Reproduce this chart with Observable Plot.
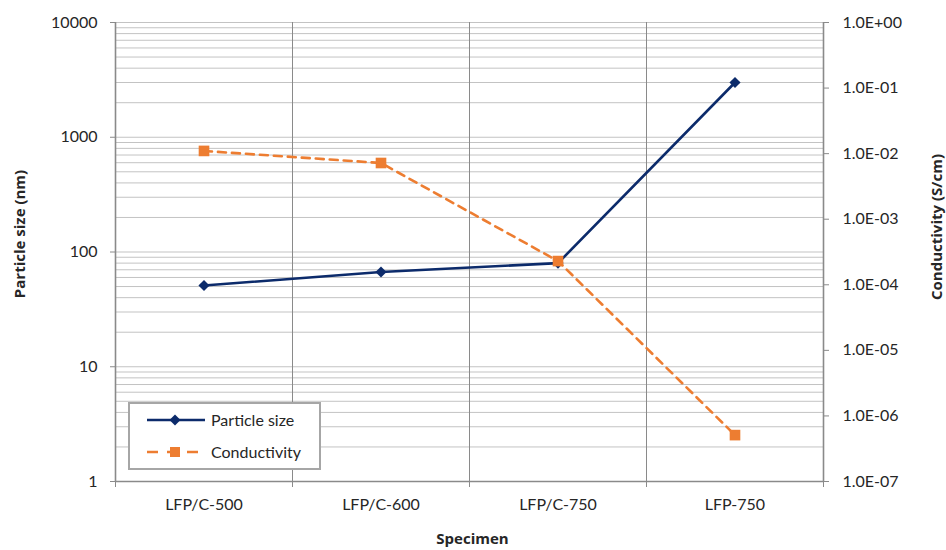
<!DOCTYPE html>
<html><head><meta charset="utf-8">
<script src="https://cdn.jsdelivr.net/npm/d3@7"></script>
<script src="https://cdn.jsdelivr.net/npm/@observablehq/plot@0.6"></script>
<style>
body{margin:0;background:#fff;}
#chart{position:relative;width:946px;height:550px;font-family:Lato, sans-serif;}
#legend{position:absolute;left:128px;top:402px;width:189px;height:64px;border:2px solid #a6a6a6;background:#fff;font-family:Lato, sans-serif;font-size:16px;color:#262626;}
</style></head><body><div id="chart"></div>
<script>
const specimens = ["LFP/C-500", "LFP/C-600", "LFP/C-750", "LFP-750"];
const particleSize = [51, 67, 80, 3000];          // nm
const conductivity = [1.1e-2, 7.2e-3, 2.3e-4, 5.1e-7]; // S/cm
const leftTicks = [1, 10, 100, 1000, 10000];
const rightTickLabels = ["1.0E-07", "1.0E-06", "1.0E-05", "1.0E-04", "1.0E-03", "1.0E-02", "1.0E-01", "1.0E+00"];
const rightTickValues = [1e-7, 1e-6, 1e-5, 1e-4, 1e-3, 1e-2, 1e-1, 1e0];

const NAVY = "#0c2b6b", ORANGE = "#ed7d31", GRID = "#c3c3c3", AXIS = "#8a8a8a";
// map conductivity decades [1e-7, 1e0] onto left axis decades [1, 1e4]
const toLeft = c => Math.pow(10, (Math.log10(c) + 7) * 4 / 7);

const rows = specimens.map((s, i) => ({i, s, p: particleSize[i], c: toLeft(conductivity[i])}));
const rightRows = rightTickValues.map((v, i) => ({y: toLeft(v), label: rightTickLabels[i]}));
const gridTicks = d3.scaleLog().domain([1, 1e4]).ticks();

const chart = Plot.plot({
  width: 946, height: 550,
  marginLeft: 115, marginRight: 123, marginTop: 22, marginBottom: 69,
  style: {fontFamily: "Lato, sans-serif", fontSize: "16px", color: "#262626", background: "#fff", overflow: "visible"},
  x: {type: "linear", domain: [-0.5, 3.5]},
  y: {type: "log", domain: [1, 10000]},
  marks: [
    Plot.ruleY(gridTicks, {stroke: GRID, strokeWidth: 1}),
    Plot.ruleX([0.5, 1.5, 2.5], {stroke: AXIS, strokeWidth: 1}),
    Plot.ruleX([-0.5, 3.5], {stroke: AXIS, strokeWidth: 1.6}),
    Plot.ruleY([1], {stroke: AXIS, strokeWidth: 1.6}),
    Plot.axisY(leftTicks, {anchor: "left", tickSize: 5, tickPadding: 13, tickFormat: d => String(d), stroke: AXIS, label: null}),
    Plot.axisY(rightRows.map(d => d.y), {anchor: "right", tickSize: 5, tickFormat: () => "", stroke: AXIS, label: null}),
    Plot.text(rightRows, {x: 3.5, y: "y", text: "label", dx: 19, textAnchor: "start", fontSize: 16}),
    Plot.axisX([0, 1, 2, 3], {anchor: "bottom", tickSize: 0, tickPadding: 17, tickFormat: i => specimens[i], label: null}),
    Plot.axisX([-0.5, 0.5, 1.5, 2.5, 3.5], {anchor: "bottom", tickSize: 6, tickFormat: () => "", stroke: AXIS, label: null}),
    Plot.text(["Particle size (nm)"], {frameAnchor: "left", textAnchor: "middle", rotate: -90, dx: -95, dy: -18, fontWeight: "bold", fontSize: 15, fontFamily: "Open Sans"}),
    Plot.text(["Conductivity (S/cm)"], {frameAnchor: "right", textAnchor: "middle", rotate: -90, dx: 114, dy: -25, fontWeight: "bold", fontSize: 15, fontFamily: "Open Sans"}),
    Plot.text(["Specimen"], {frameAnchor: "bottom", textAnchor: "middle", dx: 3, dy: 62, fontWeight: "bold", fontSize: 15, fontFamily: "Open Sans"}),
    Plot.line(rows, {x: "i", y: "p", stroke: NAVY, strokeWidth: 2.6}),
    Plot.dot(rows, {x: "i", y: "p", symbol: "diamond2", r: 5, fill: NAVY, stroke: "none"}),
    Plot.line(rows, {x: "i", y: "c", stroke: ORANGE, strokeWidth: 2.6, strokeDasharray: "8,6"}),
    Plot.dot(rows, {x: "i", y: "c", symbol: "square", r: 6, fill: ORANGE, stroke: "none"})
  ]
});
const host = document.getElementById("chart");
host.appendChild(chart);

const legend = document.createElement("div");
legend.id = "legend";
legend.innerHTML = `
<svg width="189" height="64" style="position:absolute;left:0;top:0">
  <line x1="17" y1="16" x2="75" y2="16" stroke="${NAVY}" stroke-width="2.6"/>
  <path d="M45,10.5 L50.5,16 L45,21.5 L39.5,16 Z" fill="${NAVY}"/>
  <line x1="17" y1="48" x2="75" y2="48" stroke="${ORANGE}" stroke-width="2.6" stroke-dasharray="11,9"/>
  <rect x="40" y="43" width="10" height="10" fill="${ORANGE}"/>
  <text x="81" y="21.5" font-size="16" fill="#262626">Particle size</text>
  <text x="81" y="53.5" font-size="16" fill="#262626">Conductivity</text>
</svg>`;
host.appendChild(legend);
</script></body></html>
